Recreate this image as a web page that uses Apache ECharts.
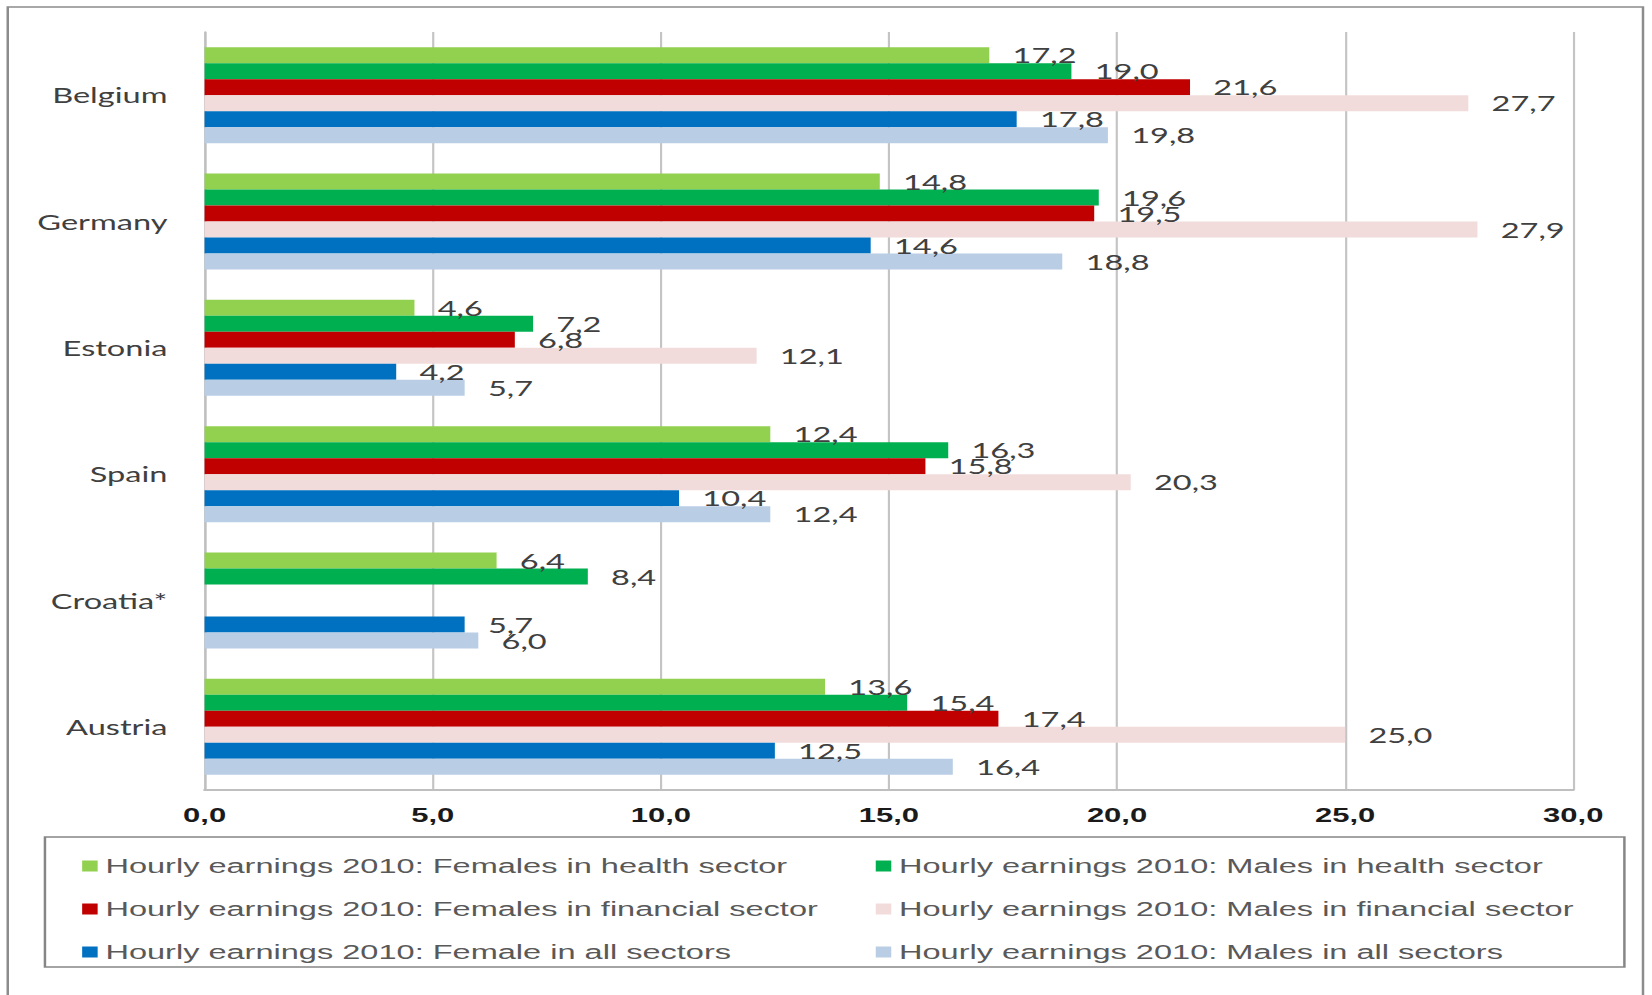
<!DOCTYPE html>
<html>
<head>
<meta charset="utf-8">
<script src="https://cdn.jsdelivr.net/npm/echarts@6/dist/echarts.min.js"></script>
<style>
    html, body { margin: 0; padding: 0; background: #fff; overflow: hidden; }
    /* the source picture is stretched sideways, so the chart is drawn narrow and widened */
    #chart { width: 1066px; height: 995px; transform: scaleX(1.55); transform-origin: 0 0; }
</style>
</head>
<body>
<div id="chart"></div>
<script>
const categories = ['Belgium', 'Germany', 'Estonia', 'Spain', 'Croatia*', 'Austria'];
const femalesHealth = [17.2, 14.8, 4.6, 12.4, 6.4, 13.6];
const malesHealth = [19.0, 19.6, 7.2, 16.3, 8.4, 15.4];
const femalesFinancial = [21.6, 19.5, 6.8, 15.8, null, 17.4];
const malesFinancial = [27.7, 27.9, 12.1, 20.3, null, 25.0];
const femaleAll = [17.8, 14.6, 4.2, 10.4, 5.7, 12.5];
const malesAll = [19.8, 18.8, 5.7, 12.4, 6.0, 16.4];

const seriesNames = [
    'Hourly earnings 2010: Females in health sector',
    'Hourly earnings 2010: Males in health sector',
    'Hourly earnings 2010: Females in financial sector',
    'Hourly earnings 2010: Males in financial sector',
    'Hourly earnings 2010: Female in all sectors',
    'Hourly earnings 2010: Males in all sectors'
];
const seriesData = [femalesHealth, malesHealth, femalesFinancial, malesFinancial, femaleAll, malesAll];
const colors = ['#92d050', '#00b050', '#c00000', '#f2dcdb', '#0070c0', '#b9cde5'];

const fmt = v => v.toFixed(1).replace('.', ',');

const initChart = () => {
    var chartDom = document.getElementById('chart');
    var myChart = echarts.init(chartDom, null, { renderer: 'svg' });
    const legendText = { fontFamily: 'Liberation Sans, Arial', fontSize: 21, color: '#595959', lineHeight: 22 };
    const option = {
        backgroundColor: '#fff',
        animation: false,
        grid: { left: 132, right: 51, top: 32, bottom: 205 },
        legend: [
            {
                orient: 'vertical', left: 48, top: 850, itemGap: 21,
                itemWidth: 10, itemHeight: 11, icon: 'rect',
                textStyle: legendText,
                data: [seriesNames[0], seriesNames[2], seriesNames[4]]
            },
            {
                orient: 'vertical', left: 560, top: 850, itemGap: 21,
                itemWidth: 10, itemHeight: 11, icon: 'rect',
                textStyle: legendText,
                data: [seriesNames[1], seriesNames[3], seriesNames[5]]
            }
        ],
        graphic: [
            {
                type: 'rect', silent: true,
                shape: { x: 5, y: 7, width: 1055, height: 1010 },
                style: { fill: 'none', stroke: '#8c8c8c', lineWidth: 1.6 }
            },
            {
                type: 'rect', silent: true,
                shape: { x: 29, y: 837, width: 1019, height: 130 },
                style: { fill: 'none', stroke: '#868686', lineWidth: 1.6 }
            }
        ],
        xAxis: {
            type: 'value',
            min: 0, max: 30, interval: 5,
            axisLine: { show: true, lineStyle: { color: '#bfbfbf', width: 2 } },
            axisTick: { show: false },
            axisLabel: {
                formatter: fmt, margin: 15,
                fontFamily: 'Liberation Sans, Arial', fontWeight: 'bold', fontSize: 20, color: '#1a1a1a'
            },
            splitLine: { lineStyle: { color: '#c4c4c4', width: 1.4 } }
        },
        yAxis: {
            type: 'category',
            inverse: true,
            data: categories,
            axisLine: { show: true, lineStyle: { color: '#bfbfbf', width: 1.4 } },
            axisTick: { show: false },
            axisLabel: { margin: 24, fontFamily: 'Lato', fontSize: 21, color: '#404040' }
        },
        series: seriesNames.map((name, i) => ({
            name: name,
            type: 'bar',
            data: seriesData[i],
            barWidth: 16,
            barGap: '0%',
            itemStyle: { color: colors[i] },
            label: {
                show: true, position: 'right', distance: 15,
                formatter: p => fmt(p.value),
                fontFamily: 'Lato', fontSize: 21, color: '#404040'
            }
        }))
    };
    myChart.setOption(option);
};
initChart();
</script>
</body>
</html>
